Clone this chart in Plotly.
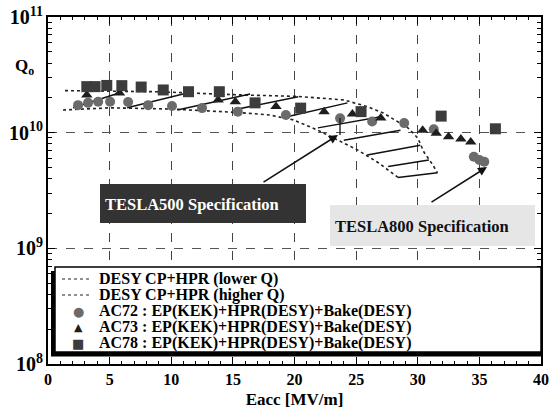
import plotly.graph_objects as go

# ---------------- data ----------------
ac72_x = [2.44, 3.25, 4.07, 5.04, 6.5, 8.13, 10.06, 12.5, 15.4, 19.3, 23.7, 26.3, 28.9, 31.3, 34.55, 35.0, 35.4]
ac72_q = [1.73e10, 1.81e10, 1.85e10, 1.85e10, 1.84e10, 1.73e10, 1.70e10, 1.63e10, 1.52e10, 1.42e10,
          1.33e10, 1.25e10, 1.21e10, 1.07e10, 6.2e9, 5.8e9, 5.6e9]

ac73_x = [3.15, 5.8, 13.8, 15.2, 18.5, 22.4, 24.7, 27.0, 30.4, 31.5, 32.5, 33.5, 34.3]
ac73_q = [2.12e10, 2.2e10, 1.92e10, 1.85e10, 1.68e10, 1.52e10, 1.45e10, 1.34e10, 1.05e10, 9.9e9,
          9.2e9, 8.8e9, 8.3e9]

ac78_x = [3.15, 3.82, 4.77, 5.99, 7.56, 9.35, 11.4, 13.9, 16.8, 20.5, 25.4, 31.9, 36.3]
ac78_q = [2.50e10, 2.50e10, 2.56e10, 2.55e10, 2.48e10, 2.34e10, 2.26e10, 2.26e10, 1.81e10, 1.63e10,
          1.52e10, 1.39e10, 1.08e10]

desy_low_x = [1.22, 5.04, 10.1, 15.6, 18.0, 19.9, 21.9, 23.5, 25.1, 26.8, 28.4]
desy_low_q = [1.57e10, 1.64e10, 1.60e10, 1.49e10, 1.42e10, 1.29e10, 1.05e10, 8.6e9, 7.1e9, 5.5e9, 4.1e9]

desy_high_x = [1.38, 8.86, 15.6, 20.2, 24.0, 25.9, 27.2, 28.4, 29.2, 30.0, 30.5, 31.2, 31.6]
desy_high_q = [2.31e10, 2.26e10, 2.12e10, 2.06e10, 1.92e10, 1.68e10, 1.48e10, 1.24e10, 1.10e10,
               9.0e9, 6.8e9, 5.3e9, 4.5e9]

# hatch segments between the two DESY curves: (x_low, q_low) -> (x_high, q_high)
hatch_x0 = [2.03, 6.42, 10.5, 15.4, 19.4, 21.9, 24.0, 25.9, 27.6, 28.4]
hatch_q0 = [1.64e10, 1.64e10, 1.57e10, 1.60e10, 1.37e10, 1.10e10, 8.6e9, 6.4e9, 5.1e9, 4.1e9]
hatch_x1 = [6.02, 11.3, 16.4, 20.3, 24.3, 27.0, 28.6, 30.2, 30.9, 31.6]
hatch_q1 = [2.25e10, 2.20e10, 2.16e10, 2.04e10, 1.81e10, 1.37e10, 1.05e10, 7.8e9, 5.8e9, 4.5e9]

legend_labels = ["DESY CP+HPR (lower Q)", "DESY CP+HPR (higher Q)",
                 "AC72 : EP(KEK)+HPR(DESY)+Bake(DESY)",
                 "AC73 : EP(KEK)+HPR(DESY)+Bake(DESY)",
                 "AC78 : EP(KEK)+HPR(DESY)+Bake(DESY)"]

# ---------------- styling ----------------
FONT = "Liberation Serif, Times New Roman, serif"
C72, C73, C78 = "#6b6b6b", "#1e1e1e", "#3c3c3c"

W, H = 552, 414
L, R, T, B = 48, 11, 17, 50
PW, PH = W - L - R, H - T - B


def px(xp):
    return (xp - L) / PW


def py(yp):
    return (H - B - yp) / PH


fig = go.Figure()

fig.add_trace(go.Scatter(x=desy_low_x, y=desy_low_q, mode="lines", name=legend_labels[0],
                         line=dict(color="#222", width=1.6, dash="dot"), showlegend=False))
fig.add_trace(go.Scatter(x=desy_high_x, y=desy_high_q, mode="lines", name=legend_labels[1],
                         line=dict(color="#222", width=1.6, dash="dot"), showlegend=False))

hx, hy = [], []
for a, b, c, d in zip(hatch_x0, hatch_q0, hatch_x1, hatch_q1):
    hx += [a, c, None]
    hy += [b, d, None]
fig.add_trace(go.Scatter(x=hx, y=hy, mode="lines", line=dict(color="#111", width=1.5),
                         showlegend=False, hoverinfo="skip"))

fig.add_trace(go.Scatter(x=ac72_x, y=ac72_q, mode="markers", name=legend_labels[2],
                         marker=dict(symbol="circle", size=10, color=C72), showlegend=False))
fig.add_trace(go.Scatter(x=ac73_x, y=ac73_q, mode="markers", name=legend_labels[3],
                         marker=dict(symbol="triangle-up", size=10, color=C73), showlegend=False))
fig.add_trace(go.Scatter(x=ac78_x, y=ac78_q, mode="markers", name=legend_labels[4],
                         marker=dict(symbol="square", size=11, color=C78), showlegend=False))

shapes = []
annotations = []

# legend box with shadow
shapes.append(dict(type="rect", xref="paper", yref="paper", x0=px(51), x1=px(541), y0=py(356.5), y1=py(271),
                   fillcolor="black", line=dict(width=0), layer="above"))
shapes.append(dict(type="rect", xref="paper", yref="paper", x0=px(55), x1=px(541), y0=py(352), y1=py(267),
                   fillcolor="white", line=dict(color="black", width=1.5), layer="above"))

rows_y = [279, 295, 311, 327, 343]
for i in range(2):
    shapes.append(dict(type="line", xref="paper", yref="paper", x0=px(62), x1=px(90),
                       y0=py(rows_y[i]), y1=py(rows_y[i]), line=dict(color="#222", width=1.2, dash="dot"),
                       layer="above"))
syms = [("●", C72, 13), ("▲", C73, 11), ("■", C78, 13)]
for i, (s, c, fs) in enumerate(syms):
    annotations.append(dict(xref="paper", yref="paper", x=px(78), y=py(rows_y[i + 2]), text=s,
                            showarrow=False, xanchor="center", yanchor="middle",
                            font=dict(family="DejaVu Sans", size=fs, color=c)))
for i, lab in enumerate(legend_labels):
    annotations.append(dict(xref="paper", yref="paper", x=px(97), y=py(rows_y[i]), text=lab,
                            showarrow=False, xanchor="left", yanchor="middle",
                            font=dict(family=FONT, size=16, color="black", weight="bold")))

# TESLA500 box
shapes.append(dict(type="rect", xref="paper", yref="paper", x0=px(100), x1=px(306), y0=py(223), y1=py(184),
                   fillcolor="#333333", line=dict(width=0), layer="above"))
annotations.append(dict(xref="paper", yref="paper", x=px(103), y=py(204), text="TESLA500 Specification",
                        showarrow=False, xanchor="left", yanchor="middle",
                        font=dict(family=FONT, size=16.5, color="white", weight="bold")))
# TESLA800 box
shapes.append(dict(type="rect", xref="paper", yref="paper", x0=px(330), x1=px(535), y0=py(246), y1=py(205),
                   fillcolor="#e6e6e6", line=dict(width=0), layer="above"))
annotations.append(dict(xref="paper", yref="paper", x=px(333), y=py(227), text="TESLA800 Specification",
                        showarrow=False, xanchor="left", yanchor="middle",
                        font=dict(family=FONT, size=16.5, color="#111", weight="bold")))

# arrows
annotations.append(dict(xref="paper", yref="paper", x=px(338), y=py(135), ax=262 - 338, ay=183 - 135,
                        text="", showarrow=True, arrowhead=2, arrowsize=1.2, arrowwidth=1.5, arrowcolor="#111"))
annotations.append(dict(xref="paper", yref="paper", x=px(487), y=py(167), ax=430 - 487, ay=203 - 167,
                        text="", showarrow=True, arrowhead=2, arrowsize=1.2, arrowwidth=1.5, arrowcolor="#111"))
shapes.append(dict(type="line", xref="paper", yref="paper", x0=px(340), x1=px(340), y0=py(135), y1=py(118),
                   line=dict(color="#111", width=1.3), layer="above"))

# Qo label
annotations.append(dict(xref="paper", yref="paper", x=px(24), y=py(67), text="Q<sub>o</sub>",
                        showarrow=False, xanchor="center", yanchor="middle",
                        font=dict(family=FONT, size=17, color="black", weight="bold")))

fig.update_layout(
    width=W, height=H, margin=dict(l=L, r=R, t=T, b=B, autoexpand=False),
    paper_bgcolor="white", plot_bgcolor="white",
    showlegend=False, shapes=shapes, annotations=annotations,
    font=dict(family=FONT, color="black", weight="bold"),
)
fig.update_xaxes(
    range=[0, 40], dtick=5, tick0=0, showline=True, linecolor="black", linewidth=1.5, mirror="allticks",
    ticks="inside", ticklen=7, tickwidth=1.2, tickcolor="black", automargin=False,
    minor=dict(dtick=1, ticks="inside", ticklen=3, tickcolor="black", showgrid=False),
    showgrid=True, gridcolor="#444", griddash="dash", gridwidth=1.3, zeroline=False,
    tickfont=dict(family=FONT, size=16, color="black", weight="bold"),
    title=dict(text="Eacc [MV/m]", font=dict(family=FONT, size=17, color="black", weight="bold"), standoff=6),
)
fig.update_yaxes(
    type="log", range=[8, 11], dtick=1, exponentformat="power", showline=True, linecolor="black",
    linewidth=1.5, mirror="allticks", ticks="inside", ticklen=7, tickwidth=1.2, tickcolor="black",
    automargin=False,
    minor=dict(dtick="D1", ticks="inside", ticklen=4, tickcolor="black", showgrid=False),
    showgrid=True, gridcolor="#555", griddash="dash", gridwidth=1.3, zeroline=False,
    tickfont=dict(family=FONT, size=16, color="black", weight="bold"),
)

fig.write_html("out.html")
